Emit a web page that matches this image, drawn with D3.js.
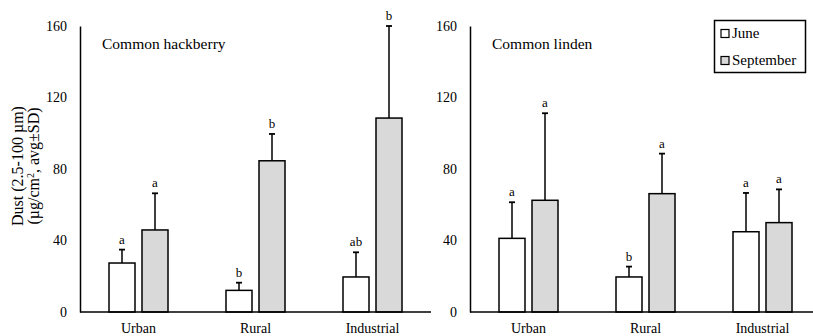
<!DOCTYPE html>
<html>
<head>
<meta charset="utf-8">
<script src="https://cdn.jsdelivr.net/npm/d3@7"></script>
<style>
  body { margin: 0; background: #fff; }
  svg text { font-family: "Liberation Serif", "DejaVu Serif", serif; fill: #000; }
</style>
</head>
<body>
<svg width="813" height="336"></svg>
<script>
// values (µg/cm², mean and SD)
const categories = ["Urban", "Rural", "Industrial"]
const seasons = ["June", "September"]
const yTicks = [0, 40, 80, 120, 160]

const hackJune = [27.4, 12.1, 19.6]
const hackJuneSD = [7.5, 4.3, 13.8]
const hackSept = [45.9, 84.6, 108.5]
const hackSeptSD = [20.5, 15.0, 51.5]
const hackJuneLetters = ["a", "b", "ab"]
const hackSeptLetters = ["a", "b", "b"]

const lindJune = [41.2, 19.6, 44.9]
const lindJuneSD = [20.2, 5.8, 21.7]
const lindSept = [62.5, 66.2, 50.0]
const lindSeptSD = [48.7, 22.4, 18.6]
const lindJuneLetters = ["a", "b", "a"]
const lindSeptLetters = ["a", "a", "a"]

const fills = { June: "#ffffff", September: "#d9d9d9" }

const svg = d3.select("svg")
const y = d3.scaleLinear().domain([0, 160]).range([312, 26])

function panel(x0, xEnd, title, june, juneSD, sept, septSD, jl, sl) {
    const g = svg.append("g")
    const x = d3.scaleBand().domain(categories).range([x0, x0 + 351])
    const inner = d3.scaleBand().domain(seasons).range([0, 59]).paddingInner(7 / 33)
    const off = (x.bandwidth() - 59) / 2

    const rows = []
    categories.forEach((c, i) => {
        rows.push({ cat: c, s: "June", v: june[i], sd: juneSD[i], l: jl[i] })
        rows.push({ cat: c, s: "September", v: sept[i], sd: septSD[i], l: sl[i] })
    })
    const cx = d => x(d.cat) + off + inner(d.s) + inner.bandwidth() / 2

    // error bars (upper only)
    g.selectAll(".err").data(rows).join("line")
        .attr("x1", cx).attr("x2", cx)
        .attr("y1", d => y(d.v)).attr("y2", d => y(d.v + d.sd))
        .attr("stroke", "#000").attr("stroke-width", 1.5)
    g.selectAll(".cap").data(rows).join("line")
        .attr("x1", d => cx(d) - 3).attr("x2", d => cx(d) + 3)
        .attr("y1", d => y(d.v + d.sd)).attr("y2", d => y(d.v + d.sd))
        .attr("stroke", "#000").attr("stroke-width", 1.8)

    g.selectAll(".bar").data(rows).join("rect")
        .attr("x", d => x(d.cat) + off + inner(d.s))
        .attr("y", d => y(d.v))
        .attr("width", inner.bandwidth())
        .attr("height", d => y(0) - y(d.v))
        .attr("fill", d => fills[d.s])
        .attr("stroke", "#000").attr("stroke-width", 1.5)

    g.selectAll(".lt").data(rows).join("text")
        .attr("x", cx).attr("y", d => y(d.v + d.sd) - 6)
        .attr("text-anchor", "middle").attr("font-size", 13)
        .text(d => d.l)

    // axes
    const ya = g.append("g").attr("transform", `translate(${x0},0)`)
        .call(d3.axisLeft(y).tickValues(yTicks).tickSize(0).tickPadding(13).tickSizeOuter(0))
    ya.select(".domain").attr("stroke-width", 1.5)
    ya.selectAll("text").attr("font-size", 14).attr("font-family", "Liberation Serif")

    g.append("line").attr("x1", x0).attr("x2", xEnd).attr("y1", y(0)).attr("y2", y(0))
        .attr("stroke", "#000").attr("stroke-width", 1.5)
    const xa = g.append("g").attr("transform", `translate(0,${y(0)})`)
        .call(d3.axisBottom(x).tickSize(0).tickPadding(11))
    xa.select(".domain").remove()
    xa.selectAll("text").attr("font-size", 14).attr("font-family", "Liberation Serif")

    g.append("text").attr("x", x0 + 22).attr("y", 49).attr("font-size", 15.5).text(title)
}

panel(80, 431, "Common hackberry", hackJune, hackJuneSD, hackSept, hackSeptSD, hackJuneLetters, hackSeptLetters)
panel(470, 813, "Common linden", lindJune, lindJuneSD, lindSept, lindSeptSD, lindJuneLetters, lindSeptLetters)

// y label
const yl = svg.append("text").attr("transform", "translate(23,166) rotate(-90)")
    .attr("text-anchor", "middle").attr("font-size", 16)
yl.append("tspan").attr("x", 0).attr("dy", 0).text("Dust (2.5-100 µm)")
yl.append("tspan").attr("x", 0).attr("dy", 16).text("(µg/cm")
yl.append("tspan").attr("dy", -5).attr("font-size", 10).text("2")
yl.append("tspan").attr("dy", 5).text(", avg±SD)")

// legend
const lg = svg.append("g")
lg.append("rect").attr("x", 714.5).attr("y", 20.5).attr("width", 91).attr("height", 52)
    .attr("fill", "#fff").attr("stroke", "#000").attr("stroke-width", 1.5)
seasons.forEach((s, i) => {
    lg.append("rect").attr("x", 721).attr("y", 29.5 + i * 27).attr("width", 8).attr("height", 8)
        .attr("fill", fills[s]).attr("stroke", "#000").attr("stroke-width", 1.2)
    lg.append("text").attr("x", 732).attr("y", 38 + i * 27).attr("font-size", 15).text(s)
})
</script>
</body>
</html>
